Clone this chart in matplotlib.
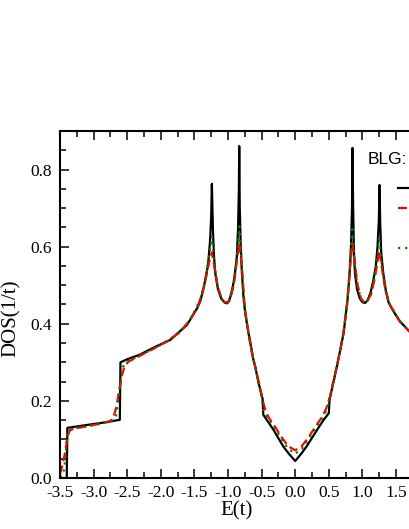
import matplotlib
matplotlib.use('Agg')
import matplotlib.pyplot as plt
from matplotlib.lines import Line2D
from matplotlib.ticker import MultipleLocator, FormatStrFormatter

# exact DOS (black solid)
e_exact = [-3.40, -3.39, -3.20, -3.00, -2.80, -2.61, -2.60, -2.50, -2.31, -2.11, -1.86, -1.61,
           -1.46, -1.41, -1.36, -1.31, -1.29, -1.265, -1.25, -1.24, -1.225, -1.21, -1.19, -1.15,
           -1.10, -1.05, -1.016, -0.98, -0.95, -0.918, -0.89, -0.868, -0.85, -0.838, -0.833,
           -0.825, -0.81, -0.793, -0.77, -0.744, -0.695, -0.67, -0.63, -0.595, -0.55, -0.50,
           -0.485, -0.475, -0.40, -0.323, -0.25, -0.174, -0.09, 0.00,
           0.09, 0.17, 0.25, 0.33, 0.42, 0.50, 0.51, 0.53, 0.62, 0.72, 0.78, 0.81, 0.83, 0.845,
           0.853, 0.862, 0.875, 0.89, 0.92, 0.96, 1.00, 1.04, 1.08, 1.12, 1.16, 1.20, 1.225,
           1.245, 1.255, 1.265, 1.28, 1.31, 1.35, 1.39, 1.47, 1.56, 1.70, 1.80]
dos_exact = [0.000, 0.130, 0.135, 0.140, 0.145, 0.151, 0.300, 0.308, 0.320, 0.338, 0.358, 0.397,
             0.440, 0.460, 0.495, 0.540, 0.566, 0.620, 0.680, 0.763, 0.650, 0.580, 0.532, 0.490,
             0.465, 0.455, 0.453, 0.460, 0.480, 0.506, 0.540, 0.575, 0.650, 0.750, 0.861,
             0.700, 0.600, 0.532, 0.470, 0.428, 0.376, 0.355, 0.312, 0.289, 0.250, 0.215,
             0.205, 0.164, 0.145, 0.125, 0.103, 0.081, 0.062, 0.044,
             0.063, 0.082, 0.104, 0.126, 0.150, 0.168, 0.200, 0.218, 0.289, 0.375, 0.465, 0.530,
             0.600, 0.700, 0.856, 0.700, 0.580, 0.530, 0.490, 0.466, 0.456, 0.454, 0.462, 0.480,
             0.510, 0.550, 0.600, 0.670, 0.760, 0.660, 0.585, 0.532, 0.485, 0.455, 0.430, 0.406,
             0.380, 0.365]

# smoothed DOS (red dashed)
e_red = [-3.50, -3.46, -3.42, -3.39, -3.36, -3.30, -3.10, -2.90, -2.75, -2.70, -2.66, -2.62,
         -2.58, -2.54, -2.48, -2.30, -2.10, -1.90, -1.70, -1.55, -1.45, -1.38, -1.32, -1.28,
         -1.24, -1.20, -1.15, -1.10, -1.05, -1.00, -0.95, -0.91, -0.87, -0.83, -0.79, -0.75,
         -0.70, -0.65, -0.60, -0.55, -0.50, -0.46, -0.40, -0.30, -0.20, -0.10, 0.00,
         0.10, 0.20, 0.30, 0.40, 0.46, 0.52, 0.57, 0.62, 0.67, 0.72, 0.77, 0.81, 0.85, 0.89,
         0.93, 0.98, 1.03, 1.08, 1.13, 1.18, 1.22, 1.25, 1.29, 1.34, 1.40, 1.48, 1.56, 1.70, 1.80]
dos_red = [0.010, 0.035, 0.070, 0.105, 0.122, 0.128, 0.134, 0.141, 0.148, 0.160, 0.185, 0.225,
           0.265, 0.290, 0.302, 0.318, 0.336, 0.355, 0.380, 0.415, 0.445, 0.480, 0.525, 0.560,
           0.585, 0.545, 0.495, 0.468, 0.456, 0.456, 0.475, 0.505, 0.560, 0.610, 0.540, 0.440,
           0.380, 0.330, 0.292, 0.255, 0.215, 0.185, 0.158, 0.133, 0.105, 0.082, 0.072,
           0.083, 0.106, 0.133, 0.158, 0.180, 0.212, 0.250, 0.290, 0.330, 0.380, 0.445, 0.535,
           0.610, 0.555, 0.500, 0.465, 0.455, 0.460, 0.478, 0.515, 0.555, 0.590, 0.545, 0.490,
           0.452, 0.428, 0.405, 0.380, 0.365]

# smoothed DOS (green dotted)
e_green = [-3.50, -3.45, -3.42, -3.40, -3.38, -3.33, -3.10, -2.90, -2.70, -2.66, -2.63, -2.60,
           -2.57, -2.53, -2.40, -2.20, -2.00, -1.80, -1.60, -1.48, -1.40, -1.33, -1.29, -1.24,
           -1.20, -1.15, -1.10, -1.05, -1.00, -0.95, -0.91, -0.87, -0.83, -0.79, -0.75, -0.70,
           -0.65, -0.60, -0.55, -0.50, -0.47, -0.40, -0.30, -0.20, -0.10, 0.00,
           0.10, 0.20, 0.30, 0.40, 0.47, 0.52, 0.57, 0.62, 0.67, 0.72, 0.77, 0.81, 0.85, 0.89,
           0.93, 0.98, 1.03, 1.08, 1.13, 1.18, 1.22, 1.25, 1.29, 1.34, 1.40, 1.48, 1.56, 1.70, 1.80]
dos_green = [0.002, 0.010, 0.050, 0.100, 0.122, 0.128, 0.134, 0.141, 0.150, 0.165, 0.210, 0.250,
             0.285, 0.300, 0.310, 0.327, 0.345, 0.368, 0.400, 0.438, 0.470, 0.520, 0.565, 0.627,
             0.550, 0.495, 0.466, 0.455, 0.455, 0.475, 0.508, 0.570, 0.653, 0.535, 0.438, 0.378,
             0.332, 0.292, 0.254, 0.212, 0.175, 0.152, 0.128, 0.100, 0.075, 0.063,
             0.076, 0.101, 0.129, 0.153, 0.178, 0.214, 0.252, 0.290, 0.331, 0.378, 0.448, 0.540,
             0.653, 0.545, 0.495, 0.465, 0.455, 0.460, 0.478, 0.518, 0.565, 0.627, 0.548, 0.490,
             0.453, 0.430, 0.406, 0.380, 0.365]

plt.rcParams['font.family'] = 'Liberation Serif'
plt.rcParams['axes.unicode_minus'] = False

fig = plt.figure(figsize=(4.09, 5.29), dpi=100)
# the original picture is cropped on the right, so only show up to E = 1.75
# and let the right spine fall just outside the canvas
ax = fig.add_axes([60 / 409, 51 / 529, 352.8 / 409, 347 / 529])

ax.plot(e_exact, dos_exact, color='black', lw=1.6)
ax.plot(e_red, dos_red, color='#FF0000', lw=1.6, ls=(0, (4, 2)))
ax.plot(e_green, dos_green, color='#008000', lw=1.6, ls=(0, (1, 2.2)))

ax.set_xlim(-3.5, 1.75)
ax.set_ylim(0, 0.9)
ax.xaxis.set_major_locator(MultipleLocator(0.5))
ax.xaxis.set_minor_locator(MultipleLocator(0.25))
ax.yaxis.set_major_locator(MultipleLocator(0.2))
ax.yaxis.set_minor_locator(MultipleLocator(0.05))
ax.xaxis.set_major_formatter(FormatStrFormatter('%.1f'))
ax.yaxis.set_major_formatter(FormatStrFormatter('%.1f'))
ax.tick_params(which='both', direction='in', top=True, width=1.1, labelsize=12.5)
ax.tick_params(which='major', length=6.5)
ax.tick_params(which='minor', length=4)
ax.tick_params(axis='y', pad=6)
ax.tick_params(axis='x', pad=5)
for s in ax.spines.values():
    s.set_linewidth(1.5)

ax.set_xlabel('E(t)', fontsize=15, labelpad=0)
ax.set_ylabel('DOS(1/t)', fontsize=15)
ax.yaxis.set_label_coords(-0.11, 0.46)

ax.text(0.873, 0.905, 'BLG:', transform=ax.transAxes, fontsize=12.5, family='Liberation Sans')
handles = [Line2D([], [], color='black', lw=1.6),
           Line2D([], [], color='#FF0000', lw=1.6, ls=(0, (4, 2))),
           Line2D([], [], ls='none'),
           Line2D([], [], color='#008000', lw=1.6, ls=(0, (1, 2.2)))]
ax.legend(handles, ['', '', '', ''], loc='upper left', bbox_to_anchor=(0.958, 0.85),
          frameon=False, borderpad=0, borderaxespad=0, fontsize=10, labelspacing=0.5,
          handlelength=1.0, handletextpad=0)

fig.savefig('out.png', dpi=100)
